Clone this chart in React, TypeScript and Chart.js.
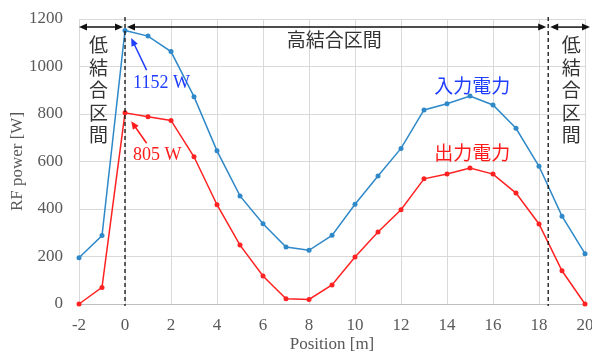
import React, { useEffect, useRef } from "react";
import { Chart, registerables } from "chart.js";

Chart.register(...registerables);

const positions = [-2, -1, 0, 1, 2, 3, 4, 5, 6, 7, 8, 9, 10, 11, 12, 13, 14, 15, 16, 17, 18, 19, 20];
const inputPower = [195, 288, 1152, 1128, 1063, 873, 645, 455, 338, 240, 226, 289, 420, 539, 655, 817, 843, 876, 838, 740, 580, 370, 212];
const outputPower = [0, 70, 805, 788, 773, 620, 418, 248, 118, 22, 19, 80, 198, 303, 397, 527, 547, 573, 547, 467, 337, 140, 0];
const boundaries = [0, 18.4];
const inputLabel = "入力電力";
const outputLabel = "出力電力";
const lowLabel = "低結合区間";
const highLabel = "高結合区間";
const peakInputLabel = "1152 W";
const peakOutputLabel = "805 W";

const BLUE_LINE = "#2f88c8";
const RED_LINE = "#ff2222";
const BLUE_TEXT = "#1f3dff";
const RED_TEXT = "#ff1a1a";
const CJK = '"Noto Sans CJK JP", "Noto Sans", sans-serif';
const SERIF = '"Liberation Serif", "DejaVu Serif", serif';

function arrowHead(ctx: CanvasRenderingContext2D, x: number, y: number, angle: number, len: number, half: number) {
  ctx.save();
  ctx.translate(x, y);
  ctx.rotate(angle);
  ctx.beginPath();
  ctx.moveTo(0, 0);
  ctx.lineTo(-len, -half);
  ctx.lineTo(-len, half);
  ctx.closePath();
  ctx.fill();
  ctx.restore();
}

function line(ctx: CanvasRenderingContext2D, x1: number, y1: number, x2: number, y2: number) {
  ctx.beginPath();
  ctx.moveTo(x1, y1);
  ctx.lineTo(x2, y2);
  ctx.stroke();
}

const annotationPlugin = {
  id: "annots",
  afterDatasetsDraw(chart: any) {
    const { ctx, chartArea, scales } = chart;
    const xs = scales.x;
    const ys = scales.y;
    ctx.save();
    ctx.strokeStyle = "#111";
    ctx.lineWidth = 1.3;
    ctx.setLineDash([4, 3]);
    boundaries.forEach((b) => {
      const px = xs.getPixelForValue(b);
      line(ctx, px, chartArea.top - 2, px, chartArea.bottom + 2);
    });
    ctx.setLineDash([]);

    const ay = ys.getPixelForValue(1166);
    const b0 = xs.getPixelForValue(boundaries[0]);
    const b1 = xs.getPixelForValue(boundaries[1]);
    const segs = [
      [chartArea.left, b0 - 2],
      [b0 + 2, b1 - 2],
      [b1 + 2, chartArea.right + 5],
    ];
    ctx.fillStyle = "#111";
    ctx.strokeStyle = "#111";
    ctx.lineWidth = 1.5;
    segs.forEach(([a, b]) => {
      line(ctx, a + 4, ay, b - 4, ay);
      arrowHead(ctx, a, ay, Math.PI, 8, 3.5);
      arrowHead(ctx, b, ay, 0, 8, 3.5);
    });

    const drawCallout = (color: string, fx: number, fy: number, tx: number, ty: number) => {
      const x1 = xs.getPixelForValue(fx), y1 = ys.getPixelForValue(fy);
      const x2 = xs.getPixelForValue(tx), y2 = ys.getPixelForValue(ty);
      const ang = Math.atan2(y2 - y1, x2 - x1);
      ctx.strokeStyle = color;
      ctx.fillStyle = color;
      ctx.lineWidth = 1.5;
      line(ctx, x1, y1, x2 - Math.cos(ang) * 5, y2 - Math.sin(ang) * 5);
      arrowHead(ctx, x2, y2, ang, 8, 3.5);
    };
    drawCallout(BLUE_TEXT, 0.94, 985, 0.27, 1120);
    drawCallout(RED_TEXT, 0.94, 677, 0.27, 770);

    ctx.textBaseline = "middle";
    ctx.textAlign = "left";
    ctx.font = `18px ${SERIF}`;
    ctx.fillStyle = BLUE_TEXT;
    ctx.fillText(peakInputLabel, xs.getPixelForValue(0.35), ys.getPixelForValue(930));
    ctx.fillStyle = RED_TEXT;
    ctx.fillText(peakOutputLabel, xs.getPixelForValue(0.35), ys.getPixelForValue(625));

    ctx.textAlign = "center";
    ctx.font = `19px ${CJK}`;
    ctx.fillStyle = BLUE_TEXT;
    ctx.fillText(inputLabel, xs.getPixelForValue(15.1), ys.getPixelForValue(920));
    ctx.fillStyle = RED_TEXT;
    ctx.fillText(outputLabel, xs.getPixelForValue(15.1), ys.getPixelForValue(635));

    ctx.fillStyle = "#333333";
    ctx.fillText(highLabel, xs.getPixelForValue(9.1), ys.getPixelForValue(1112));

    const vertical = (cx: number, topVal: number) => {
      const px = xs.getPixelForValue(cx);
      const py = ys.getPixelForValue(topVal);
      Array.from(lowLabel).forEach((ch, i) => {
        ctx.fillText(ch, px, py + i * 22.5);
      });
    };
    vertical(-1.15, 1090);
    vertical(19.4, 1090);
    ctx.restore();
  },
};

export default function App() {
  const ref = useRef<HTMLCanvasElement | null>(null);
  useEffect(() => {
    if (!ref.current) return;
    const chart = new Chart(ref.current, {
      type: "line",
      data: {
        datasets: [
          {
            label: inputLabel,
            data: positions.map((x, i) => ({ x, y: inputPower[i] })),
            borderColor: BLUE_LINE,
            backgroundColor: BLUE_LINE,
            borderWidth: 1.5,
            pointRadius: 2.5,
            pointBorderWidth: 0,
            tension: 0,
            clip: false,
          },
          {
            label: outputLabel,
            data: positions.map((x, i) => ({ x, y: outputPower[i] })),
            borderColor: RED_LINE,
            backgroundColor: RED_LINE,
            borderWidth: 1.5,
            pointRadius: 2.5,
            pointBorderWidth: 0,
            tension: 0,
            clip: false,
          },
        ],
      },
      options: {
        animation: false,
        responsive: false,
        layout: { padding: { top: 19, right: 7, left: 0, bottom: 0 } },
        plugins: { legend: { display: false }, tooltip: { enabled: false } },
        scales: {
          x: {
            type: "linear",
            min: -2,
            max: 20,
            ticks: { stepSize: 2, color: "#595959", padding: 11, font: { family: SERIF, size: 17 }, callback: (v: any) => String(v) },
            grid: { color: "#d9d9d9", drawTicks: false },
            border: { color: "#bfbfbf" },
            title: { display: true, text: "Position [m]", color: "#595959", font: { family: SERIF, size: 17 }, padding: { top: 0, bottom: 1 } },
            afterFit: (s: any) => { s.height = 52; s.paddingLeft = 0; s.paddingRight = 0; },
          },
          y: {
            min: 0,
            max: 1200,
            ticks: { stepSize: 200, color: "#595959", padding: 16, font: { family: SERIF, size: 17 }, callback: (v: any) => String(v) },
            grid: { color: "#d9d9d9", drawTicks: false },
            border: { color: "#d9d9d9" },
            title: { display: true, text: "RF power [W]", color: "#595959", font: { family: SERIF, size: 17 }, padding: { top: 7, bottom: 7 } },
            afterFit: (s: any) => { s.width = 79; s.paddingTop = 0; s.paddingBottom = 0; },
          },
        },
      } as any,
      plugins: [annotationPlugin],
    });
    return () => chart.destroy();
  }, []);
  return (
    <div style={{ position: "absolute", left: 0, top: 0, width: 592, height: 356, background: "#fff" }}>
      <canvas ref={ref} width={592} height={356} />
    </div>
  );
}
